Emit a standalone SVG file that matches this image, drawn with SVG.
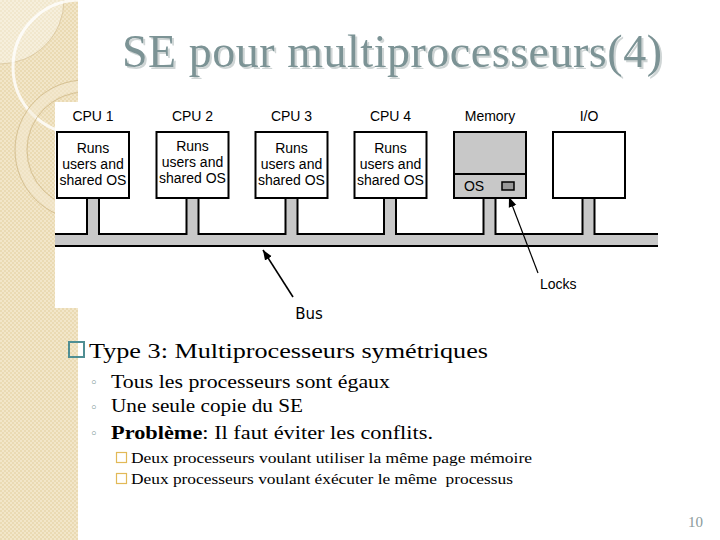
<svg xmlns="http://www.w3.org/2000/svg" width="720" height="540" viewBox="0 0 720 540">
<style>
.lbl{font-family:"Liberation Sans",Arial,sans-serif;font-size:14px;fill:#000;text-anchor:middle}
.box{fill:#fff;stroke:#000;stroke-width:2}
.gray{fill:#c8c8c8}
.ln{fill:none;stroke:#000;stroke-width:2}
.ser{font-family:"Liberation Serif","Times New Roman",serif;fill:#000}
.title{font-family:"Liberation Serif","Times New Roman",serif;font-size:46px}
.dot{font-family:"DejaVu Sans",sans-serif;font-size:13px;fill:#5d7c80}
.sq2{fill:none;stroke:#e2b957;stroke-width:1.2}
</style>
<defs>
<pattern id="chk" width="4" height="4" patternUnits="userSpaceOnUse">
<rect width="4" height="4" fill="#eadab3"/>
<rect width="2" height="2" fill="#f2e6c9"/>
<rect x="2" y="2" width="2" height="2" fill="#f2e6c9"/>
</pattern>
<clipPath id="stripClip"><rect width="78" height="540"/></clipPath>
<filter id="shadow" x="-5%" y="-20%" width="110%" height="150%">
<feOffset in="SourceAlpha" dx="2" dy="2" result="o"/>
<feFlood flood-color="#cfd5d5"/>
<feComposite in2="o" operator="in" result="s"/>
<feMerge><feMergeNode in="s"/><feMergeNode in="SourceGraphic"/></feMerge>
</filter>
<marker id="ah" viewBox="0 0 10 10" refX="10" refY="5" markerWidth="10" markerHeight="10" markerUnits="userSpaceOnUse" orient="auto">
<path d="M0,1 L10,5 L0,9 z" fill="#000"/>
</marker>
</defs>
<rect width="720" height="540" fill="#fff"/>
<g id="strip" clip-path="url(#stripClip)">
<rect width="78" height="540" fill="url(#chk)"/>
<circle cx="0" cy="0" r="64" fill="#fff" fill-opacity="0.35" stroke="#d8c49a" stroke-width="0.8"/>
<circle cx="80" cy="67" r="67" fill="none" stroke="#fff" stroke-opacity="0.8" stroke-width="3"/>
<circle cx="85" cy="150" r="70" fill="none" stroke="#d6c194" stroke-width="1"/>
<circle cx="85" cy="150" r="64" fill="none" stroke="#f4ead4" stroke-width="10" stroke-opacity="0.5"/>
<circle cx="85" cy="150" r="58" fill="none" stroke="#d6c194" stroke-width="1"/>
</g>
<g id="title">
<text class="title" x="122" y="67" textLength="540" fill="#7b9395" filter="url(#shadow)">SE pour multiprocesseurs(4)</text>
</g>
<rect id="figure-bg" x="55" y="102" width="605" height="206" fill="#fff"/>
<g id="connectors">
<rect class="gray" x="55" y="234" width="603" height="12"/>
<rect class="gray" x="87" y="198" width="12" height="37"/>
<rect class="gray" x="186.5" y="198" width="12" height="37"/>
<rect class="gray" x="285.5" y="198" width="12" height="37"/>
<rect class="gray" x="384" y="198" width="12" height="37"/>
<rect class="gray" x="483.5" y="198" width="12" height="37"/>
<rect class="gray" x="582.5" y="198" width="12" height="37"/>
<path class="ln" d="M55,234 H87 V198 M99,198 V234 H186.5 V198 M198.5,198 V234 H285.5 V198 M297.5,198 V234 H384 V198 M396,198 V234 H483.5 V198 M495.5,198 V234 H582.5 V198 M594.5,198 V234 H658"/>
<path class="ln" d="M55,246 H658"/>
<line x1="293" y1="297" x2="263" y2="250" stroke="#000" stroke-width="1.6" marker-end="url(#ah)"/>
<line x1="538" y1="273" x2="509" y2="197" stroke="#000" stroke-width="1.2" marker-end="url(#ah)"/>
</g>
<g id="cpu1">
<text class="lbl" x="93" y="121">CPU 1</text>
<rect class="box" x="57" y="132" width="72" height="66"/>
<text class="lbl" x="93" y="153">Runs</text>
<text class="lbl" x="93" y="169">users and</text>
<text class="lbl" x="93" y="185">shared OS</text>
</g>
<g id="cpu2">
<text class="lbl" x="192.5" y="121">CPU 2</text>
<rect class="box" x="156.5" y="132" width="72" height="66"/>
<text class="lbl" x="192.5" y="151">Runs</text>
<text class="lbl" x="192.5" y="167">users and</text>
<text class="lbl" x="192.5" y="183">shared OS</text>
</g>
<g id="cpu3">
<text class="lbl" x="291.5" y="121">CPU 3</text>
<rect class="box" x="255.5" y="132" width="72" height="66"/>
<text class="lbl" x="291.5" y="153">Runs</text>
<text class="lbl" x="291.5" y="169">users and</text>
<text class="lbl" x="291.5" y="185">shared OS</text>
</g>
<g id="cpu4">
<text class="lbl" x="390.5" y="121">CPU 4</text>
<rect class="box" x="354.5" y="132" width="72" height="66"/>
<text class="lbl" x="390.5" y="153">Runs</text>
<text class="lbl" x="390.5" y="169">users and</text>
<text class="lbl" x="390.5" y="185">shared OS</text>
</g>
<g id="memory">
<text class="lbl" x="490" y="121">Memory</text>
<rect class="box" x="454" y="132" width="72" height="66" style="fill:#c8c8c8"/>
<line x1="454" y1="174" x2="526" y2="174" stroke="#000" stroke-width="2"/>
<text class="lbl" x="474" y="191">OS</text>
<rect x="502" y="182" width="12" height="8" fill="#999" stroke="#000" stroke-width="1.5"/>
</g>
<g id="io">
<text class="lbl" x="589" y="121">I/O</text>
<rect class="box" x="553" y="132" width="72" height="66"/>
</g>
<g id="labels">
<text x="309" y="319" font-family="DejaVu Sans,sans-serif" font-size="15" text-anchor="middle">Bus</text>
<text x="540" y="289" font-family="Liberation Sans,Arial,sans-serif" font-size="14">Locks</text>
</g>
<g id="body">
<rect x="69" y="342" width="15" height="15" fill="none" stroke="#4f8e93" stroke-width="2"/>
<text class="ser" x="89" y="358" font-size="22" textLength="399" lengthAdjust="spacingAndGlyphs">Type 3: Multiprocesseurs symétriques</text>
<text class="dot" x="90" y="387">◦</text>
<text class="ser" x="111" y="388" font-size="19" textLength="279" lengthAdjust="spacingAndGlyphs">Tous les processeurs sont égaux</text>
<text class="dot" x="90" y="412">◦</text>
<text class="ser" x="111" y="412" font-size="19" textLength="192" lengthAdjust="spacingAndGlyphs">Une seule copie du SE</text>
<text class="dot" x="90" y="438">◦</text>
<text class="ser" x="111" y="439" font-size="19" textLength="322" lengthAdjust="spacingAndGlyphs"><tspan font-weight="bold">Problème</tspan>: Il faut éviter les conflits.</text>
<rect class="sq2" x="116.5" y="452.5" width="10" height="10"/>
<text class="ser" x="131" y="463" font-size="15.5" textLength="401" lengthAdjust="spacingAndGlyphs">Deux processeurs voulant utiliser la même page mémoire</text>
<rect class="sq2" x="116.5" y="473.5" width="10" height="10"/>
<text class="ser" x="131" y="484" font-size="15.5" textLength="382" lengthAdjust="spacingAndGlyphs" style="white-space:pre">Deux processeurs voulant éxécuter le même  processus</text>
</g>
<text id="page" x="688" y="527" font-family="Liberation Serif,serif" font-size="15" fill="#8a9a9b">10</text>
</svg>
